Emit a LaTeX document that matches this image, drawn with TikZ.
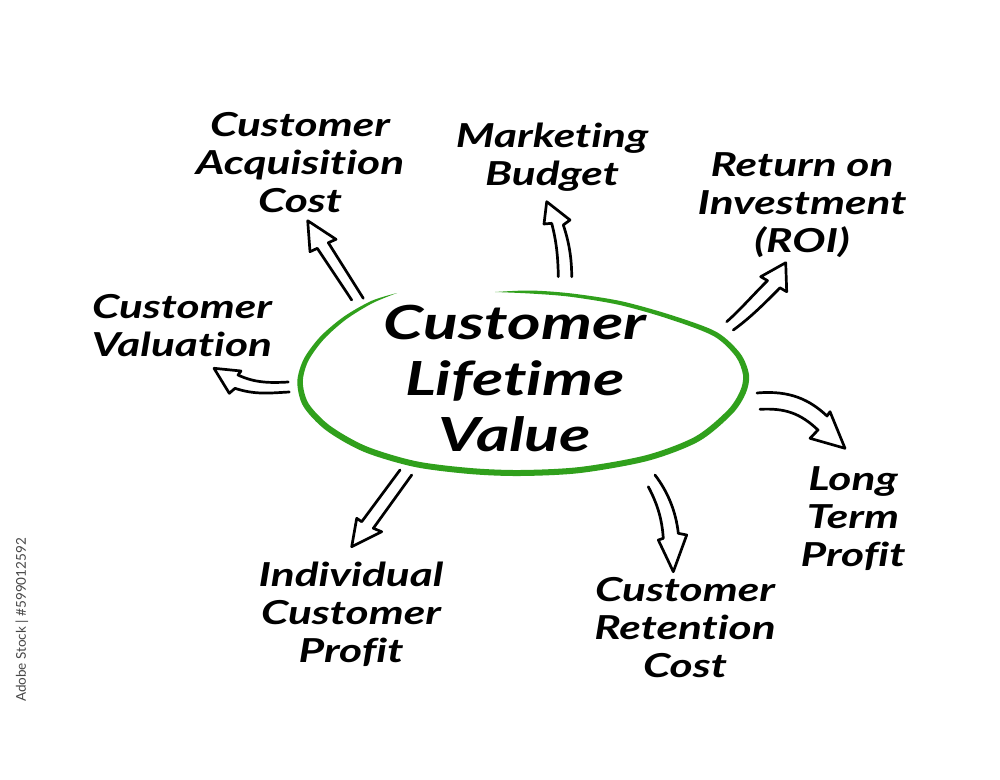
\documentclass[tikz,border=0pt]{standalone}
\usepackage{fontspec}
\setmainfont{Lato}[Ligatures=NoCommon]
\definecolor{ringgreen}{RGB}{48,160,28}
\definecolor{wmgray}{RGB}{70,70,70}
\begin{document}
\begin{tikzpicture}[x=1pt,y=-1pt,
  label/.style={align=center,font=\fontsize{33}{38}\selectfont\bfseries\itshape,inner sep=0pt,transform shape,xscale=1.34},
  title/.style={align=center,font=\fontsize{47}{56}\selectfont\bfseries\itshape,inner sep=0pt,transform shape,xscale=1.37},
  harrow/.style={draw=black,line width=2.7pt,line join=round,line cap=round},
  wmtext/.style={font=\fontsize{13.5}{15}\selectfont,text=wmgray,rotate=90,inner sep=0pt}]
\useasboundingbox (0,0) rectangle (1000,779);
\fill[white] (0,0) rectangle (1000,779);

% ring
\fill[ringgreen] plot[smooth] coordinates {(397,293) (371.6,300.8) (343.9,316.6) (320.2,336.7) (303.7,359.1) (297.3,382) (303.3,406.3) (326,430.3) (363.8,451.8) (414.4,466.9) (469.8,474) (520,476) (580.3,473) (648,460.8) (698.8,441.4) (732.5,413.7) (745.9,392.9) (749,374.7) (740.3,353.5) (716.3,331.8) (670.7,314.9) (620.3,301) (570.1,293.3) (530,290.5) (495,292)}
  -- plot[smooth] coordinates {(495,292) (530,293.5) (569.9,296.7) (619.7,305) (669.3,319.1) (713.8,336.2) (735.7,356.5) (743,375.3) (740.1,391.1) (727.5,410.3) (695.2,436.6) (646,455.2) (579.7,467) (520,470) (470.2,468) (415.6,461.1) (366.2,446.2) (330,425.7) (308.7,403.7) (302.8,382) (308.3,360.9) (323.8,339.3) (346.1,319.4) (372.4,303.2) (397,293)} -- cycle;

% labels
\node[title] (clv) at (515,378) {Customer\\Lifetime\\Value};
\node[label] (acc) at (300,163) {Customer\\Acquisition\\Cost};
\node[label] (mb) at (552,157) {Marketing\\Budget};
\node[label] (roi) at (802,205) {Return on\\Investment\\(ROI)};
\node[label] (cv) at (182,326) {Customer\\Valuation};
\node[label] (ltp) at (853,519) {Long\\Term\\Profit};
\node[label] (icp) at (351,614) {Individual\\Customer\\Profit};
\node[label] (crc) at (685,628) {Customer\\Retention\\Cost};

% arrows
\draw[harrow] (351.7,300) -- (317.3,248.3) -- (310,251.7) -- (307.7,220.7) -- (336,239.3) -- (328.3,242.7) -- (363.3,298.3);
\draw[harrow] (558.3,276.7) .. controls (558,255) and (556,240) .. (551.7,223.3) -- (544,224) -- (546.7,201.7) -- (570,220) -- (563.3,225) .. controls (569,242) and (571.7,258) .. (571.7,276.7);
\draw[harrow] (726.7,321.7) .. controls (740,310) and (752,296) .. (767.5,280.6) -- (760.7,276.7) -- (785.7,262.7) -- (786.7,291.7) -- (780,287.8) .. controls (765,303) and (750,318) .. (733.3,330);
\draw[harrow] (757,393) .. controls (790,390) and (810,400) .. (827,416) -- (830,411.7) -- (845,448.3) -- (810,438.3) -- (818,430) .. controls (800,413) and (785,408) .. (760,409.3);
\draw[harrow] (648.3,486.7) .. controls (658,505) and (662,520) .. (663.3,538.3) -- (658.3,540) -- (673.3,571.7) -- (686.7,535) -- (678.3,533.3) .. controls (676,512) and (668,492) .. (655,475);
\draw[harrow] (400,470) -- (361.7,521.7) -- (356.7,518.3) -- (351.7,546.7) -- (381.7,531.7) -- (373.3,528.3) -- (411.7,475);
\draw[harrow] (288.3,382) .. controls (270,383) and (255,383) .. (238,375) -- (241,371) -- (214,368.3) -- (229.3,393.3) -- (235,388.3) .. controls (255,395) and (270,393) .. (289.3,392);

% watermark caption
\node[wmtext] (wm) at (22,620) {Adobe Stock | \#599012592};
\end{tikzpicture}
\end{document}
